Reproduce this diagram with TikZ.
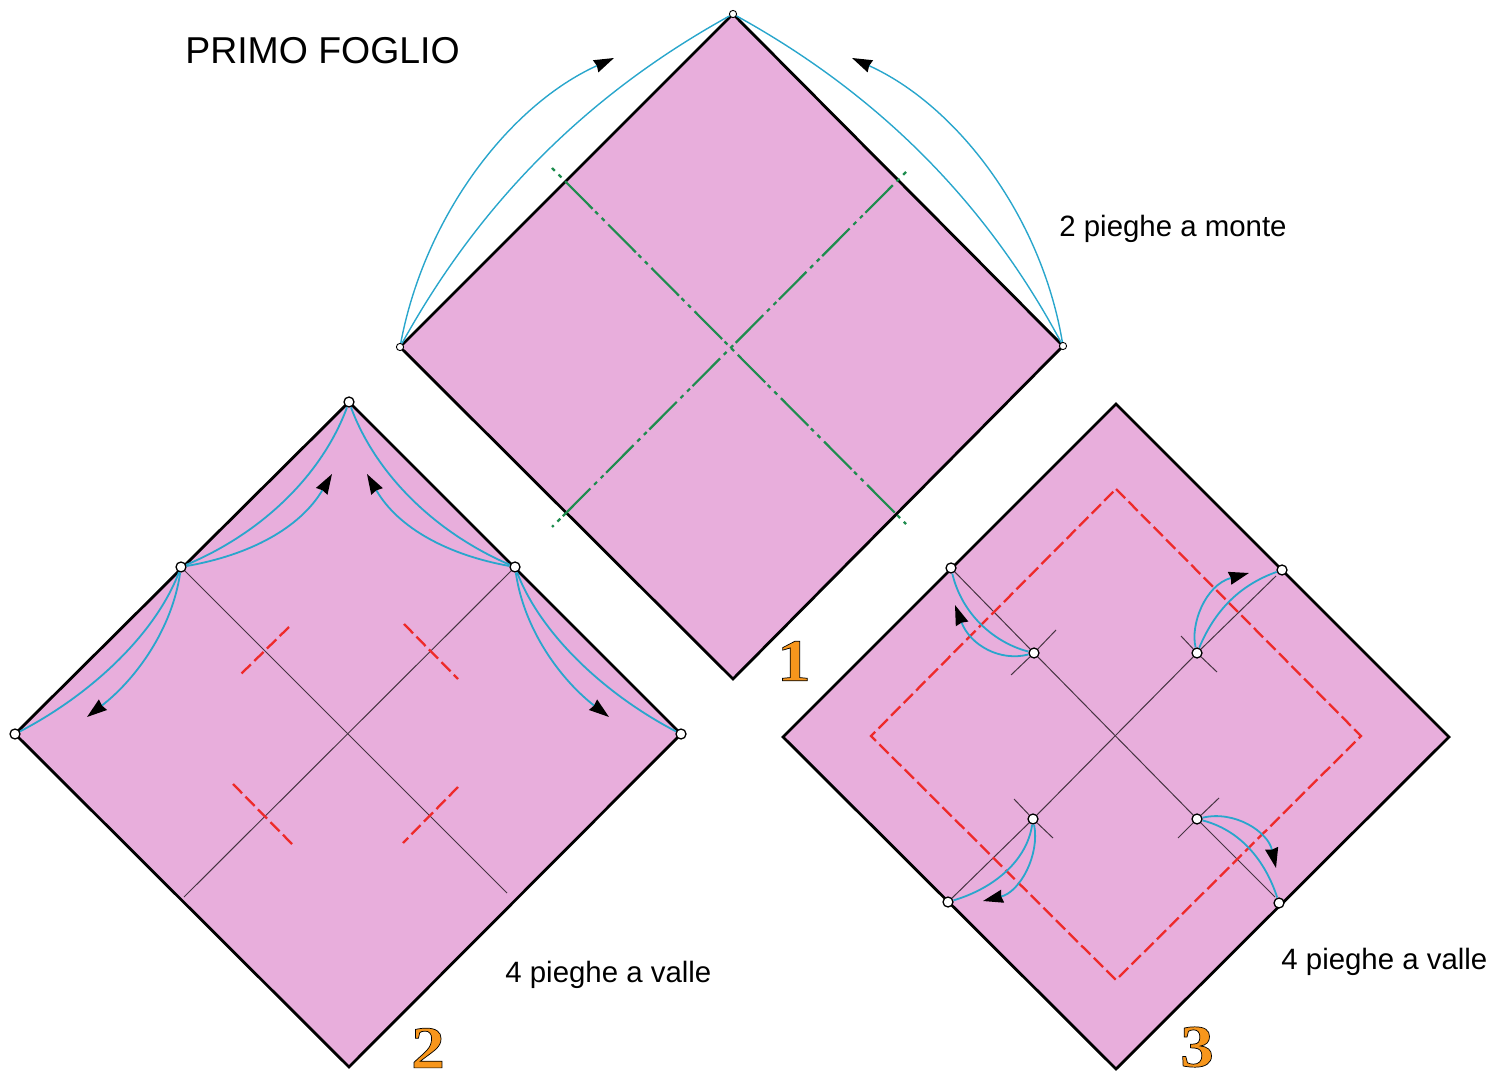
\documentclass[tikz,border=0pt]{standalone}
\usepackage{fontspec}
\setmainfont{Liberation Sans}
\newfontfamily\stepfont[FakeBold=1.2,FakeStretch=1.12]{Liberation Serif Bold}
\usepackage{tikz}
\usetikzlibrary{arrows.meta}
\definecolor{sheetpink}{HTML}{E8AEDC}
\definecolor{foldblue}{HTML}{29A6CC}
\definecolor{foldgreen}{HTML}{1E8C4E}
\definecolor{foldred}{HTML}{EE2A2A}
\newcommand{\stepdigit}[1]{\special{pdf:bcolor [0.97 0.59 0.11] [0 0 0]}#1\special{pdf:ecolor}}
\tikzset{
  sheet/.style={draw=black,fill=sheetpink,line width=1.4pt,line join=miter},
  crease/.style={draw=black!70!sheetpink,line width=0.5pt},
  mountain/.style={draw=foldgreen,line width=1.1pt,dash pattern=on 2pt off 2.65pt on 2pt off 2.65pt on 19.5pt off 1.8pt},
  valley/.style={draw=foldred,line width=1.15pt,dash pattern=on 6.5pt off 2.4pt},
  curve/.style={draw=foldblue,line width=0.9pt},
  arrowcurve/.style={curve,-{Stealth[black,length=10pt,width=6.5pt,inset=0.6pt]}},
  thincurve/.style={curve,line width=0.7pt},
  thinarrow/.style={arrowcurve,line width=0.7pt},
  pin/.style={draw=black,circle,fill=white,line width=0.65pt,inner sep=0pt,minimum size=5pt},
  smallpin/.style={pin,line width=0.45pt,minimum size=3.6pt},
  caption/.style={inner sep=0pt,font=\fontsize{14.7}{16}\selectfont},
  stepnum/.style={inner sep=0pt,font=\stepfont\fontsize{30}{30}\selectfont}
}
\begin{document}
\begin{tikzpicture}[x=0.5pt,y=-0.5pt]
    \useasboundingbox (0,0) rectangle (1510,1079);

    %Sheets
    \draw[sheet] (733,14) -- (1063,346) -- (733,679) -- (400,347) -- cycle;
    \draw[sheet] (349,402) -- (681,734) -- (349,1067) -- (15,734) -- cycle;
    \draw[sheet] (1116,404) -- (1449,737) -- (1116,1069) -- (783,737) -- cycle;

    \node[inner sep=0pt,anchor=west,font=\fontsize{18.7}{20}\selectfont] (title) at (185,51) {PRIMO FOGLIO};
    \node[caption,anchor=west] (cap1) at (1059,229) {2 pieghe a monte};
    \node[caption,anchor=west] (cap2) at (505,975) {4 pieghe a valle};
    \node[caption,anchor=west] (cap3) at (1281,962) {4 pieghe a valle};
    \node[stepnum] (num1) at (794,661) {\stepdigit{1}};
    \node[stepnum] (num2) at (428,1048) {\stepdigit{2}};
    \node[stepnum] (num3) at (1197,1047) {\stepdigit{3}};

    %Sheet 1
    \node[smallpin] (a1) at (733,14) {};
    \node[smallpin] (a2) at (400,347) {};
    \node[smallpin] (a3) at (1063,346) {};
    \coordinate (g1) at (552,168);
    \coordinate (g2) at (906,524);
    \coordinate (g3) at (906,172);
    \coordinate (g4) at (552,527);
    \coordinate (t1) at (614,58);
    \coordinate (t2) at (852,58);

    \draw[mountain] (g1) -- (g2);
    \draw[mountain] (g3) -- (g4);
    \draw[thincurve] (a2) .. controls (480,202) and (588,94) .. (a1);
    \draw[thincurve] (a3) .. controls (986,202) and (878,94) .. (a1);
    \draw[thinarrow] (a2) .. controls (425,215) and (510,105) .. (t1);
    \draw[thinarrow] (a3) .. controls (1041,215) and (956,105) .. (t2);

    %Sheet 2
    \node[pin] (b1) at (349,402) {};
    \node[pin] (b2) at (181,567) {};
    \node[pin] (b3) at (515,567) {};
    \node[pin] (b4) at (15,734) {};
    \node[pin] (b5) at (681,734) {};
    \coordinate (c1) at (507,893);
    \coordinate (c2) at (184,897);
    \coordinate (t3) at (332,474);
    \coordinate (t4) at (367,474);
    \coordinate (t5) at (87,717);
    \coordinate (t6) at (609,717);
    \coordinate (r1) at (289,627);
    \coordinate (r2) at (241,674);
    \coordinate (r3) at (404,624);
    \coordinate (r4) at (458,679);
    \coordinate (r5) at (233,784);
    \coordinate (r6) at (293,845);
    \coordinate (r7) at (458,787);
    \coordinate (r8) at (403,843);

    \draw[crease] (b2) -- (c1);
    \draw[crease] (b3) -- (c2);
    \draw[valley] (r1) -- (r2);
    \draw[valley] (r3) -- (r4);
    \draw[valley] (r5) -- (r6);
    \draw[valley] (r7) -- (r8);
    \draw[curve] (b2) .. controls (262,533) and (322,475) .. (b1);
    \draw[curve] (b3) .. controls (436,533) and (376,475) .. (b1);
    \draw[curve] (b2) .. controls (155,635) and (90,695) .. (b4);
    \draw[curve] (b3) .. controls (541,635) and (606,695) .. (b5);
    \draw[arrowcurve] (b2) .. controls (250,555) and (300,528) .. (t3);
    \draw[arrowcurve] (b3) .. controls (448,555) and (398,528) .. (t4);
    \draw[arrowcurve] (b2) .. controls (172,630) and (135,680) .. (t5);
    \draw[arrowcurve] (b3) .. controls (524,630) and (561,680) .. (t6);

    %Sheet 3
    \node[pin] (d1) at (951,568) {};
    \node[pin] (d2) at (1282,570) {};
    \node[pin] (d3) at (948,902) {};
    \node[pin] (d4) at (1279,903) {};
    \node[pin] (e1) at (1034,653) {};
    \node[pin] (e2) at (1197,653) {};
    \node[pin] (e3) at (1033,819) {};
    \node[pin] (e4) at (1197,819) {};
    \coordinate (f1) at (1276,576);
    \coordinate (f2) at (1275,897);
    \coordinate (k1) at (1056,630);
    \coordinate (k2) at (1011,675);
    \coordinate (k3) at (1181,636);
    \coordinate (k4) at (1217,672);
    \coordinate (k5) at (1014,799);
    \coordinate (k6) at (1053,838);
    \coordinate (k7) at (1219,798);
    \coordinate (k8) at (1178,838);
    \coordinate (s1) at (1116,489);
    \coordinate (s2) at (1361,736);
    \coordinate (s3) at (1116,980);
    \coordinate (s4) at (871,736);
    \coordinate (t7) at (955,605);
    \coordinate (t8) at (1249,573);
    \coordinate (t9) at (983,901);
    \coordinate (t10) at (1276,868);

    \draw[crease] (d1) -- (e1);
    \draw[crease] (e1) -- (e4);
    \draw[crease] (e4) -- (f2);
    \draw[crease] (f1) -- (e2);
    \draw[crease] (e2) -- (e3);
    \draw[crease] (e3) -- (d3);
    \draw[crease] (k1) -- (e1);
    \draw[crease] (e1) -- (k2);
    \draw[crease] (k3) -- (e2);
    \draw[crease] (e2) -- (k4);
    \draw[crease] (k5) -- (e3);
    \draw[crease] (e3) -- (k6);
    \draw[crease] (k7) -- (e4);
    \draw[crease] (e4) -- (k8);
    \draw[valley] (s1) -- (s2) -- (s3) -- (s4) -- cycle;
    \draw[curve] (e1) .. controls (995,643) and (962,615) .. (d1);
    \draw[curve] (e2) .. controls (1215,610) and (1240,585) .. (d2);
    \draw[curve] (e3) .. controls (1027,860) and (995,888) .. (d3);
    \draw[curve] (e4) .. controls (1240,830) and (1265,860) .. (d4);
    \draw[arrowcurve] (e1) .. controls (1000,662) and (970,645) .. (t7);
    \draw[arrowcurve] (e2) .. controls (1190,625) and (1205,585) .. (t8);
    \draw[arrowcurve] (e3) .. controls (1040,855) and (1020,892) .. (t9);
    \draw[arrowcurve] (e4) .. controls (1235,810) and (1268,832) .. (t10);

\end{tikzpicture}
\end{document}
